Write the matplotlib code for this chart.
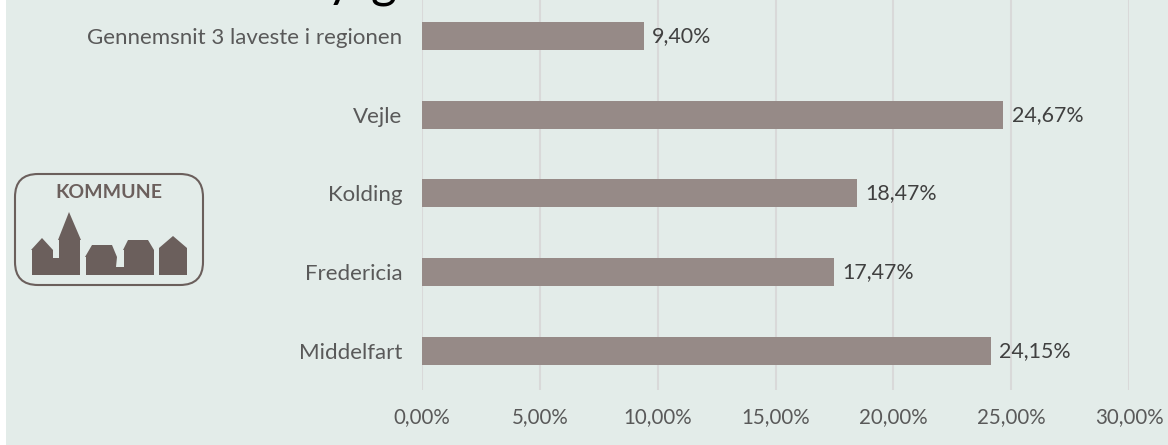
import matplotlib
matplotlib.use('Agg')
import matplotlib.pyplot as plt
from matplotlib.patches import Rectangle, FancyBboxPatch, Polygon

categories = ['Middelfart', 'Fredericia', 'Kolding', 'Vejle', 'Gennemsnit 3 laveste i regionen']
values = [24.15, 17.47, 18.47, 24.67, 9.40]
ticks = [0, 5, 10, 15, 20, 25, 30]

W, H = 1168, 445
plt.rcParams['font.family'] = ['Lato', 'DejaVu Sans']

fig = plt.figure(figsize=(W / 100, H / 100), dpi=100, facecolor='white')
bg = fig.add_axes([0, 0, 1, 1])
bg.set_xlim(0, W)
bg.set_ylim(H, 0)
bg.axis('off')
bg.add_patch(Rectangle((6, 0), W - 6, H, color='#e3ece9', lw=0))

# only the bottom of the title shows, the rest is cut by the top edge
bg.text(326, -4, 'y', fontsize=36, color='black', ha='left', va='baseline')
bg.text(371, -4, 'g', fontsize=36, color='black', ha='left', va='baseline')

# logo
logo = '#6b5f5c'
bg.add_patch(FancyBboxPatch((15 + 23, 174 + 23), 188 - 46, 111 - 46,
                            boxstyle='round,pad=23,rounding_size=23',
                            fc='none', ec=logo, lw=1.5))
bg.text(109, 193, 'KOMMUNE', fontsize=14, fontweight='bold', color=logo, ha='center', va='center')
houses = [
    [(32, 275), (32, 250), (31, 250), (42, 238), (53, 250), (53, 258), (59, 258), (59, 240),
     (58, 240), (69, 212), (81, 240), (80, 240), (80, 275)],
    [(86, 275), (86, 257), (85, 257), (92, 245), (112, 245), (117, 257), (116, 267),
     (124, 267), (124, 250), (123, 250), (128, 240), (148, 240), (154, 250), (154, 275)],
    [(159, 275), (159, 248), (173, 236), (187, 248), (187, 275)],
]
for h in houses:
    bg.add_patch(Polygon(h, closed=True, fc=logo, ec='none'))

# 0 at x=422, 30 at x=1129; plot runs from y=390 up past the top edge
ax = fig.add_axes([422 / W, 1 - 390 / H, (1129 - 422) / W, 393.4 / H])
ax.patch.set_alpha(0)
y = range(len(categories))
ax.barh(y, values, height=0.355, color='#968a87', zorder=2)
ax.set_xlim(0, 30)
ax.set_ylim(-0.5, 4.5)
ax.set_xticks(ticks)
ax.set_xticklabels([f'{t},00%' for t in ticks], fontsize=14.8, color='#595959')
ax.set_yticks(list(y))
ax.set_yticklabels(categories, fontsize=16, color='#595959')
ax.tick_params(length=0, pad=14, axis='y')
ax.tick_params(length=0, pad=12.5, axis='x')
ax.grid(axis='x', color='#d9d9d9', lw=1.5, zorder=1)
for s in ax.spines.values():
    s.set_visible(False)
for i, v in zip(y, values):
    ax.text(v + 0.35, i, f'{v:.2f}%'.replace('.', ','), fontsize=15.4, color='#404040',
            va='center', ha='left', zorder=3)

fig.savefig('out.png', dpi=100)
